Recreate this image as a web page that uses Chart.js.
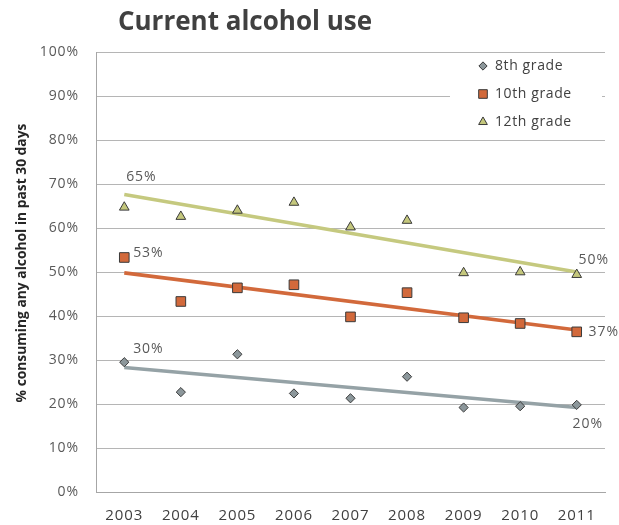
<!DOCTYPE html>
<html><head><meta charset="utf-8">
<script src="https://cdn.jsdelivr.net/npm/chart.js@4/dist/chart.umd.min.js"></script>
<style>html,body{margin:0;padding:0;background:#fff}</style>
</head><body>
<canvas id="c" width="619" height="525"></canvas>
<script>
// ---- data ----
const years = ['2003','2004','2005','2006','2007','2008','2009','2010','2011'];
const grade8  = [29.5, 22.7, 31.3, 22.4, 21.3, 26.2, 19.2, 19.5, 19.8];
const grade10 = [53.3, 43.3, 46.4, 47.1, 39.8, 45.3, 39.6, 38.3, 36.4];
const grade12 = [64.7, 62.6, 64.0, 65.8, 60.2, 61.7, 49.8, 50.0, 49.4];
// trendline values at 2003 and 2011
const trend8  = [28.3, 19.2];
const trend10 = [49.8, 36.8];
const trend12 = [67.6, 50.0];
const seriesNames = ['8th grade', '10th grade', '12th grade'];
const startLabels = ['30%', '53%', '65%'];
const endLabels   = ['20%', '37%', '50%'];
const yTickValues = [0, 10, 20, 30, 40, 50, 60, 70, 80, 90, 100];
const titleText = 'Current alcohol use';
const yTitleText = '% consuming any alcohol in past 30 days';

const FONT = '"Open Sans", "DejaVu Sans", sans-serif';
const styles = [
  {fill:'#8c979b', line:'#95a2a6', shape:'rectRot', r:4.6},
  {fill:'#d2693b', line:'#d2693b', shape:'rect', r:6.8},
  {fill:'#c4c77c', line:'#c5c97f', shape:'triangle', r:5.6}
];
const seriesData = [grade8, grade10, grade12];
const trends = [trend8, trend10, trend12];

function trendSeries(t){
  return years.map((y,i)=> i===0 ? t[0] : (i===years.length-1 ? t[1] : null));
}

const datasets = [];
seriesData.forEach((d,k)=>{
  datasets.push({
    label: seriesNames[k], data: d, showLine:false,
    pointStyle: styles[k].shape, pointRadius: styles[k].r, pointHoverRadius: styles[k].r,
    backgroundColor: styles[k].fill, borderColor:'#3a3a3a', pointBorderWidth:1, order:1
  });
});
trends.forEach((t,k)=>{
  datasets.push({
    label: 'trend', data: trendSeries(t), spanGaps:true, pointRadius:0,
    borderColor: styles[k].line, borderWidth:3.6, order:2, fill:false
  });
});

const decor = {
  id:'decor',
  beforeLayout(chart){ chart.ctx.letterSpacing = '0.9px'; },
  beforeDraw(chart){ chart.ctx.letterSpacing = '0.9px'; },
  afterDatasetsDraw(chart){
    const ctx = chart.ctx;
    // data labels
    ctx.save();
    ctx.font = '14px ' + FONT;
    ctx.fillStyle = '#595959';
    ctx.textAlign = 'center'; ctx.textBaseline = 'middle';
    const startOff = [[24,-13],[24,-4],[17,-30]];
    const endOff = [[11,19],[27,0],[17,-15]];
    for (let k=0;k<3;k++){
      const meta = chart.getDatasetMeta(k);
      const p0 = meta.data[0], p1 = meta.data[years.length-1];
      ctx.fillText(startLabels[k], p0.x+startOff[k][0], p0.y+startOff[k][1]);
      ctx.fillText(endLabels[k], p1.x+endOff[k][0], p1.y+endOff[k][1]);
    }
    // legend
    const ca = chart.chartArea;
    ctx.fillStyle = '#ffffff';
    ctx.fillRect(ca.right-155, ca.top+3, 152, 80);
    ctx.font = '14px ' + FONT;
    ctx.letterSpacing = '0.6px';
    ctx.textAlign = 'left';
    for (let k=0;k<3;k++){
      const y = ca.top + 14 + 28*k;
      const x = ca.right - 122;
      const st = styles[k];
      ctx.fillStyle = st.fill; ctx.strokeStyle = '#3a3a3a'; ctx.lineWidth = 1;
      Chart.helpers.drawPoint(ctx, {pointStyle: st.shape, radius: st.r*0.9, borderWidth:1}, x, y);
      ctx.fillStyle = '#404040';
      ctx.fillText(seriesNames[k], x+12, y);
    }
    ctx.restore();
  },
  afterDraw(chart){
    const ctx = chart.ctx;
    ctx.save();
    ctx.letterSpacing = '0px';
    ctx.fillStyle = '#404040';
    ctx.font = 'bold 26px ' + FONT;
    ctx.textAlign = 'center'; ctx.textBaseline = 'middle';
    ctx.fillText(titleText, 245, 23);
    ctx.translate(22, 263);
    ctx.rotate(-Math.PI/2);
    ctx.font = 'bold 13.8px ' + FONT;
    ctx.fillStyle = '#262626';
    ctx.fillText(yTitleText, 0, 0);
    ctx.restore();
  }
};

new Chart(document.getElementById('c'), {
  type:'line',
  data:{labels: years, datasets},
  options:{
    responsive:false, devicePixelRatio:1, animation:false,
    layout:{padding:{top:52, right:14, left:0, bottom:0}},
    plugins:{legend:{display:false}, tooltip:{enabled:false}, title:{display:false}},
    scales:{
      x:{
        offset:true,
        grid:{display:false, drawTicks:false},
        border:{display:true, color:'#a6a6a6', width:1},
        ticks:{padding:15, color:'#404040', font:{family:FONT, size:15}},
        afterFit(s){ s.height = 33; }
      },
      y:{
        min:0, max:100,
        afterBuildTicks(s){ s.ticks = yTickValues.map(v=>({value:v})); },
        grid:{color:'#b5b5b5', lineWidth:1, drawTicks:false},
        border:{display:true, color:'#a6a6a6', width:1},
        ticks:{padding:17, color:'#595959', font:{family:FONT, size:14}, callback:v=>v+'%'},
        afterFit(s){ s.width = 96; }
      }
    }
  },
  plugins:[decor]
});
</script>
</body></html>
